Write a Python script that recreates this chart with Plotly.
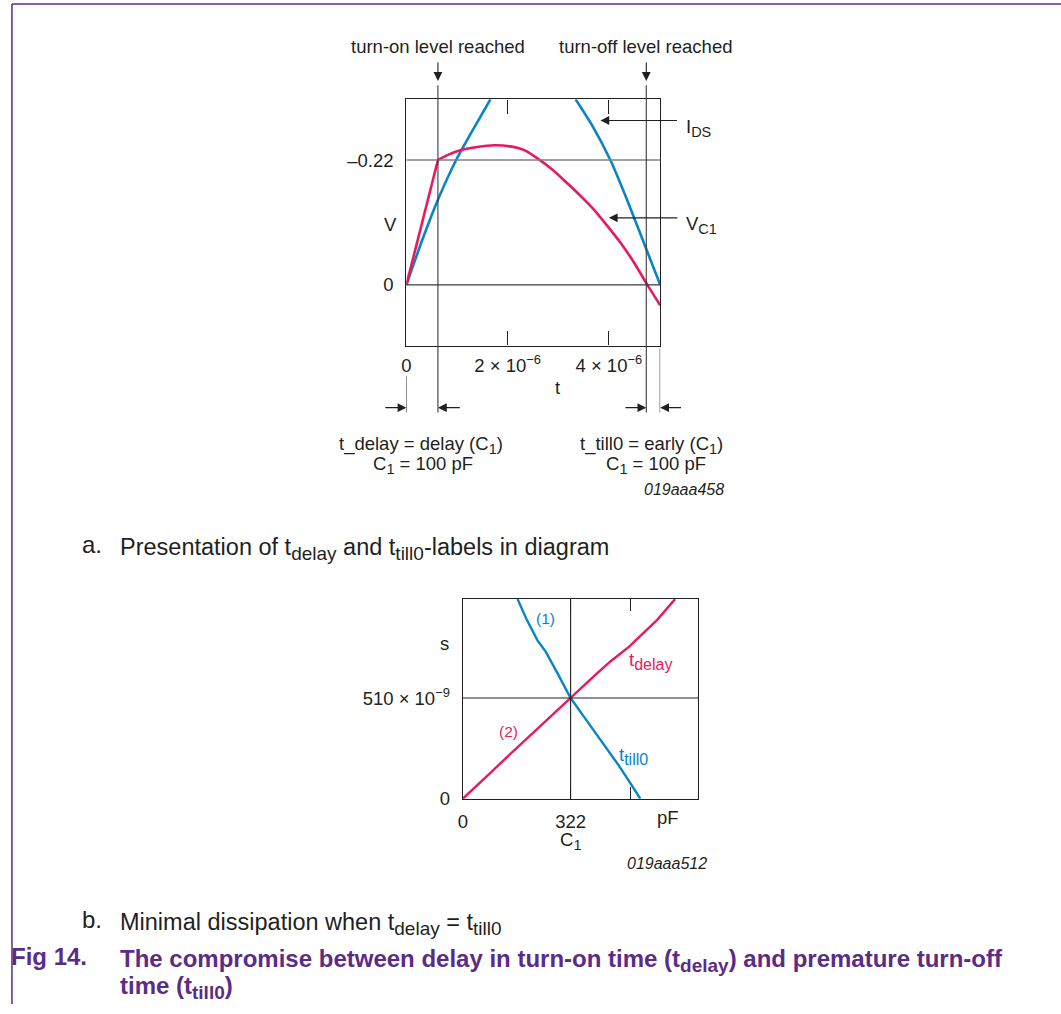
import plotly.graph_objects as go

W, H = 1061, 1014

# ---------------- data: upper diagram (time in microseconds, level in V) ----------------
IDS_RISE_T = [0, 0.295, 0.623, 0.983, 1.345, 1.66]
IDS_RISE_V = [0, -0.0746, -0.150, -0.22, -0.278, -0.327]
IDS_FALL_T = [3.343, 3.67, 4.03, 4.36, 4.69, 5.015]
IDS_FALL_V = [-0.327, -0.281, -0.22, -0.150, -0.0746, 0]

VC1_T = [0, 0.623, 0.82, 1.082, 1.4, 1.738, 2.05, 2.328, 2.59, 2.9, 3.18, 3.45,
         3.705, 3.97, 4.228, 4.5, 4.75, 5.015]
VC1_V = [0, -0.22, -0.229, -0.2375, -0.243, -0.246, -0.244, -0.2375, -0.223, -0.202,
         -0.179, -0.156, -0.1327, -0.104, -0.0746, -0.039, -0.0017, 0.036]

T_ON_US = 0.623      # turn-on level reached
T_OFF_US = 4.74      # turn-off level reached
T_END_US = 5.015
V_LEVEL = -0.22
TOP_XTICKS_US = [0, 2, 4]
TOP_XTICK_TEXT = ["0", "2 × 10<sup>−6</sup>", "4 × 10<sup>−6</sup>"]
TOP_YTICKS = [-0.22, 0]
TOP_YTICK_TEXT = ["–0.22", "0"]

# ---------------- data: lower diagram (C1 in pF, time in ns) ----------------
TDELAY_C = [0, 40, 84, 120, 164, 200, 240, 280, 322, 360, 400, 440, 496, 540, 580, 634]
TDELAY_NS = [0, 66, 134, 192, 262, 318, 382, 444, 510, 570, 634, 694, 769, 840, 905, 1011]
TTILL0_C = [163.5, 190, 223, 248, 283, 322, 360, 396, 430, 466, 500, 530]
TTILL0_NS = [1011, 910, 802, 744, 635, 510, 420, 334, 250, 168, 80, 0]

C_OPT = 322
T_OPT_NS = 510
BOT_XTICKS = [0, 322, 500]
BOT_XTICK_TEXT = ["0", "322", ""]
BOT_YTICKS_NS = [0, 510]
BOT_YTICK_TEXT = ["0", "510 × 10<sup>−9</sup>"]

RED = "#e8195c"
BLUE = "#0884c8"
INK = "#231f20"
PURPLE = "#5b2c86"
FONT = "Liberation Sans, Arial, sans-serif"
FS = 18.5      # diagram text size
CAP = 24       # caption text size


def px(x, y):
    """pixel position -> paper coordinates"""
    return x / W, 1 - y / H


def sub(s, size):
    return f"<sub><span style='font-size:{size}px'>{s}</span></sub>"


us = lambda a: [v * 1e-6 for v in a]
ns = lambda a: [v * 1e-9 for v in a]

fig = go.Figure()

# upper diagram curves
fig.add_trace(go.Scatter(x=us(IDS_RISE_T), y=IDS_RISE_V, mode="lines",
                         line=dict(color=BLUE, width=2.6, shape="spline", smoothing=0.6),
                         xaxis="x", yaxis="y", hoverinfo="skip"))
fig.add_trace(go.Scatter(x=us(IDS_FALL_T), y=IDS_FALL_V, mode="lines",
                         line=dict(color=BLUE, width=2.6, shape="spline", smoothing=0.6),
                         xaxis="x", yaxis="y", hoverinfo="skip"))
# V_C1: straight ramp up to the turn-on level, then the smooth discharge curve
fig.add_trace(go.Scatter(x=us(VC1_T[:2]), y=VC1_V[:2], mode="lines",
                         line=dict(color=RED, width=2.6), xaxis="x", yaxis="y", hoverinfo="skip"))
fig.add_trace(go.Scatter(x=us(VC1_T[1:]), y=VC1_V[1:], mode="lines",
                         line=dict(color=RED, width=2.6, shape="spline", smoothing=0.6),
                         xaxis="x", yaxis="y", hoverinfo="skip"))

# lower diagram curves
fig.add_trace(go.Scatter(x=TDELAY_C, y=ns(TDELAY_NS), mode="lines",
                         line=dict(color=RED, width=2.4), xaxis="x2", yaxis="y2", hoverinfo="skip"))
fig.add_trace(go.Scatter(x=TTILL0_C, y=ns(TTILL0_NS), mode="lines",
                         line=dict(color=BLUE, width=2.4), xaxis="x2", yaxis="y2", hoverinfo="skip"))

axis_common = dict(showgrid=False, zeroline=False, showline=True, linecolor=INK,
                   linewidth=1.4, tickfont=dict(family=FONT, size=FS, color=INK),
                   tickcolor=INK, tickwidth=1, fixedrange=True)

fig.update_layout(
    xaxis=dict(domain=[403.3 / W, 658.3 / W], range=[0, T_END_US * 1e-6], anchor="y",
               tickmode="array", tickvals=us(TOP_XTICKS_US), ticktext=TOP_XTICK_TEXT,
               ticks="inside", ticklen=14, mirror="ticks", ticklabelstandoff=3, **axis_common),
    yaxis=dict(domain=[1 - 349 / H, 1 - 100.3 / H], range=[0.107, -0.327], anchor="x",
               tickmode="array", tickvals=TOP_YTICKS, ticktext=TOP_YTICK_TEXT,
               ticks="", mirror=True, ticklabelstandoff=8, **axis_common),
    xaxis2=dict(domain=[460 / W, 696.7 / W], range=[0, 703.8], anchor="y2",
                tickmode="array", tickvals=BOT_XTICKS, ticktext=BOT_XTICK_TEXT,
                ticks="inside", ticklen=12, mirror="ticks", ticklabelstandoff=6, **axis_common),
    yaxis2=dict(domain=[1 - 806.7 / H, 1 - 605 / H], range=[0, 1011.5e-9], anchor="x2",
                tickmode="array", tickvals=ns(BOT_YTICKS_NS), ticktext=BOT_YTICK_TEXT,
                ticks="", mirror=True, ticklabelstandoff=8, **axis_common),
    width=W, height=H, autosize=False, margin=dict(l=0, r=0, t=0, b=0),
    paper_bgcolor="white", plot_bgcolor="white", showlegend=False,
    font=dict(family=FONT, size=FS, color=INK),
)

shapes = []
# reference levels in the upper diagram
shapes.append(dict(type="line", xref="x domain", yref="y", x0=0, x1=1, y0=V_LEVEL, y1=V_LEVEL,
                   line=dict(color="#808080", width=1.6)))
shapes.append(dict(type="line", xref="x domain", yref="y", x0=0, x1=1, y0=0, y1=0,
                   line=dict(color="#3a3a3a", width=1.1)))
# turn-on / turn-off markers running through the diagram
for t in (T_ON_US, T_OFF_US):
    shapes.append(dict(type="line", xref="x", yref="paper", x0=t * 1e-6, x1=t * 1e-6,
                       y0=px(0, 416.7)[1], y1=px(0, 86)[1], line=dict(color="#3a3a3a", width=1.1)))
# extension lines for the dimension arrows
shapes.append(dict(type="line", xref="x", yref="paper", x0=0, x1=0,
                   y0=px(0, 416.7)[1], y1=px(0, 380)[1], line=dict(color="#3a3a3a", width=1.1)))
shapes.append(dict(type="line", xref="x", yref="paper", x0=T_END_US * 1e-6, x1=T_END_US * 1e-6,
                   y0=px(0, 416.7)[1], y1=px(0, 352)[1], line=dict(color="#3a3a3a", width=1.1)))
# optimum cross lines in the lower diagram
shapes.append(dict(type="line", xref="x2 domain", yref="y2", x0=0, x1=1,
                   y0=T_OPT_NS * 1e-9, y1=T_OPT_NS * 1e-9, line=dict(color=INK, width=1.1)))
shapes.append(dict(type="line", xref="x2", yref="y2 domain", x0=C_OPT, x1=C_OPT, y0=0, y1=1,
                   line=dict(color=INK, width=1.1)))
# page frame
shapes.append(dict(type="line", xref="paper", yref="paper", x0=px(7, 4)[0], x1=1,
                   y0=px(0, 4)[1], y1=px(0, 4)[1], line=dict(color=PURPLE, width=1.5)))
shapes.append(dict(type="line", xref="paper", yref="paper", x0=px(7, 0)[0], x1=px(7, 0)[0],
                   y0=0, y1=px(0, 4)[1], line=dict(color=PURPLE, width=1.5)))
fig.update_layout(shapes=shapes)

ann = []


def label(text, x, y, size=FS, color=INK, xanchor="center", yanchor="middle", **kw):
    px_x, px_y = px(x, y)
    ann.append(dict(text=text, x=px_x, y=px_y, xref="paper", yref="paper", showarrow=False,
                    xanchor=xanchor, yanchor=yanchor, borderpad=0,
                    font=dict(family=FONT, size=size, color=color), **kw))


def arrow(x, y, ax, ay, xref="paper"):
    xx = x / W if xref == "paper" else x
    ann.append(dict(text="", x=xx, y=px(0, y)[1], xref=xref, yref="paper", showarrow=True,
                    ax=ax, ay=ay, axref="pixel", ayref="pixel", arrowhead=2, arrowsize=1.6,
                    arrowwidth=1.1, arrowcolor=INK, standoff=0, startstandoff=0))


S = 14.5  # subscript size in the diagrams

# upper diagram texts
label("turn-on level reached", 435, 46.7)
label("turn-off level reached", 643.5, 46.7)
arrow(T_ON_US * 1e-6, 81.7, 0, -20, xref="x")
arrow(T_OFF_US * 1e-6, 81.7, 0, -20, xref="x")
arrow(598.3, 121.7, 78, 0)
label("I" + sub("DS", S), 683, 129, xanchor="left")
arrow(606.7, 220, 70, 0)
label("V" + sub("C1", S), 683, 227, xanchor="left")
label("V", 387.5, 226.7)
label("t", 555, 391.7)
# dimension arrows below the axis
arrow(0, 411.7, -22.6, 0, xref="x")
arrow(T_ON_US * 1e-6, 411.7, 23.3, 0, xref="x")
arrow(T_OFF_US * 1e-6, 411.7, -22.3, 0, xref="x")
arrow(T_END_US * 1e-6, 411.7, 22.3, 0, xref="x")
label("t_delay = delay (C" + sub("1", S) + ")", 417.5, 449)
label("C" + sub("1", S) + " = 100 pF", 420, 470)
label("t_till0 = early (C" + sub("1", S) + ")", 650, 449)
label("C" + sub("1", S) + " = 100 pF", 654, 470)
label("<i>019aaa458</i>", 723.3, 494, size=16, xanchor="right")

label("a.", 76, 550, size=CAP, xanchor="left")
label("Presentation of t" + sub("delay", 19) + " and t" + sub("till0", 19) + "-labels in diagram",
      115, 554, size=23.5, xanchor="left")

# lower diagram texts
label("(1)", 542.8, 625, size=15.5, color=BLUE)
label("(2)", 506, 739, size=15.5, color=RED)
label("t" + sub("delay", 16), 649, 668, color=RED)
label("t" + sub("till0", 16), 631, 764, color=BLUE)
label("s", 441.7, 650)
label("pF", 666, 826)
label("C" + sub("1", S), 568, 849)
label("<i>019aaa512</i>", 706.7, 872, size=16, xanchor="right")

label("b.", 76, 929, size=CAP, xanchor="left")
label("Minimal dissipation when t" + sub("delay", 19) + " = t" + sub("till0", 19), 115, 933,
      size=23.5, xanchor="left")

label("<b>Fig 14.</b>", 5, 966, size=CAP, color=PURPLE, xanchor="left")
label("<b>The compromise between delay in turn-on time (t" + sub("delay", 19) +
      ") and premature turn-off</b>", 115, 970, size=CAP, color=PURPLE, xanchor="left")
label("<b>time (t" + sub("till0", 19) + ")</b>", 115, 997, size=CAP, color=PURPLE, xanchor="left")

fig.update_layout(annotations=ann)

fig.write_html("out.html", config={"displayModeBar": False, "responsive": False})
